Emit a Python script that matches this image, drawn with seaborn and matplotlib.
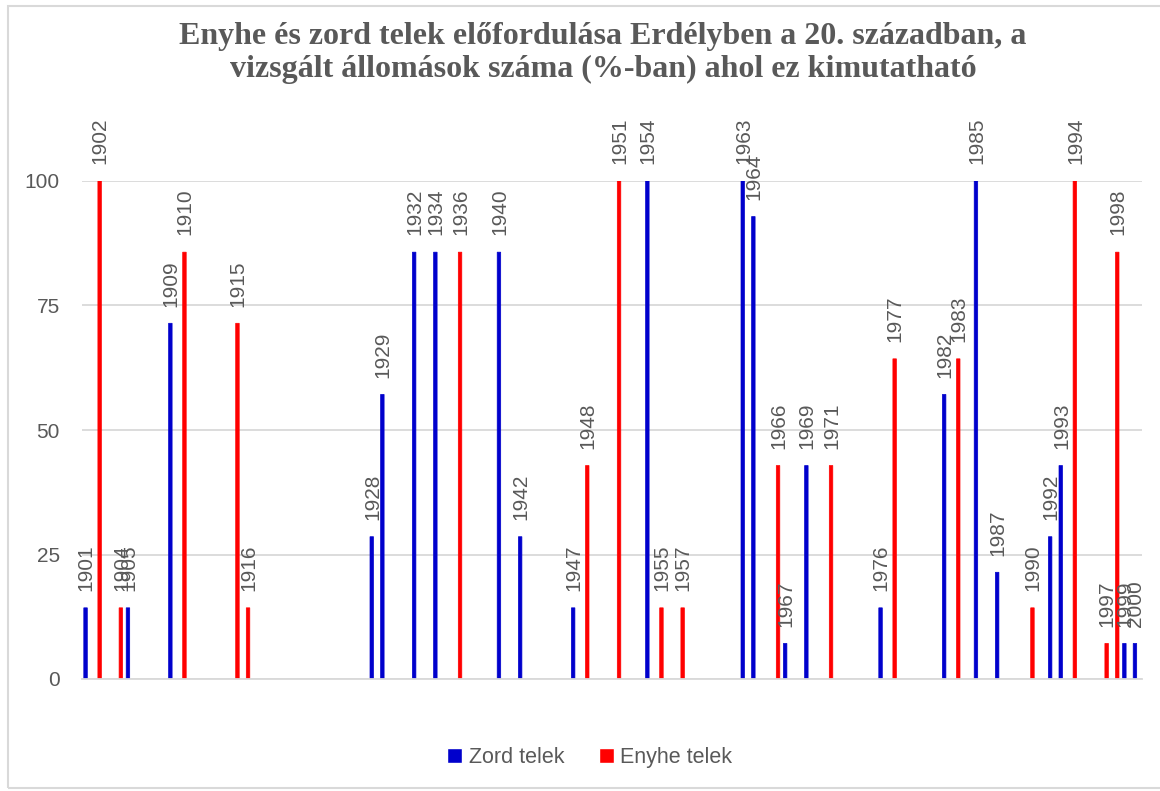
import numpy as np
import pandas as pd
import matplotlib
matplotlib.use("Agg")
import matplotlib.pyplot as plt
from matplotlib.patches import Rectangle
import seaborn as sns

# Adatok: a vizsgált állomások aránya (%) évenként
zord_years = [1901, 1905, 1909, 1928, 1929, 1932, 1934, 1940, 1942, 1947, 1954,
              1963, 1964, 1967, 1969, 1976, 1982, 1985, 1987, 1992, 1993, 1999, 2000]
zord_values = [14.29, 14.29, 71.43, 28.57, 57.14, 85.71, 85.71, 85.71, 28.57, 14.29, 100,
               100, 92.86, 7.14, 42.86, 14.29, 57.14, 100, 21.43, 28.57, 42.86, 7.14, 7.14]

enyhe_years = [1902, 1904, 1910, 1915, 1916, 1936, 1948, 1951, 1955, 1957, 1966,
               1971, 1977, 1983, 1990, 1994, 1997, 1998]
enyhe_values = [100, 14.29, 85.71, 71.43, 14.29, 85.71, 42.86, 100, 14.29, 14.29, 42.86,
                42.86, 64.29, 64.29, 14.29, 100, 7.14, 85.71]

all_years = [str(y) for y in range(1901, 2001)]
series_names = ["Zord telek", "Enyhe telek"]
colors = {"Zord telek": "#0000CC", "Enyhe telek": "#FF0000"}

df = pd.concat([
    pd.DataFrame({"ev": [str(y) for y in zord_years], "ertek": zord_values, "tipus": "Zord telek"}),
    pd.DataFrame({"ev": [str(y) for y in enyhe_years], "ertek": enyhe_values, "tipus": "Enyhe telek"}),
])

sns.set_style("white")
plt.rcParams["font.family"] = ["Liberation Sans", "DejaVu Sans"]
text_color = "#595959"
grid_color = "#d9d9d9"

fig = plt.figure(figsize=(11.6, 7.91), dpi=100)
ax = fig.add_axes([82 / 1160, 1 - 679 / 791, 1060 / 1160, 498 / 791])

sns.barplot(data=df, x="ev", y="ertek", hue="tipus", order=all_years,
            hue_order=series_names, palette=colors, width=0.66, gap=0,
            dodge=True, ax=ax, errorbar=None, saturation=1)

# vékony oszlopok egyenletes megjelenítése
for container in ax.containers:
    for bar in container:
        bar.set_edgecolor(bar.get_facecolor())
        bar.set_linewidth(0.5)
        bar.set_snap(False)

ax.set_ylim(0, 100)
ax.set_xlim(-0.5, 99.5)
ax.set_yticks([0, 25, 50, 75, 100])
ax.yaxis.grid(True, color=grid_color, linewidth=1.3)
ax.set_axisbelow(True)
ax.set_xticks([])
ax.set_xlabel("")
ax.set_ylabel("")
for s in ["top", "right", "left"]:
    ax.spines[s].set_visible(False)
ax.spines["bottom"].set_color(grid_color)
ax.spines["bottom"].set_linewidth(1.3)
ax.tick_params(axis="y", length=0, labelsize=15, labelcolor=text_color, pad=16)

# Évszám címkék az oszlopok fölött
for container in ax.containers:
    for bar in container:
        h = bar.get_height()
        if np.isnan(h) or h <= 0:
            continue
        idx = int(round(bar.get_x() + bar.get_width() / 2))
        ax.annotate(all_years[idx], (bar.get_x() + bar.get_width() / 2, h),
                    xytext=(0.5, 12), textcoords="offset points",
                    rotation=90, ha="center", va="bottom",
                    fontsize=15, color=text_color, annotation_clip=False)

sns.move_legend(ax, "center", bbox_to_anchor=(0.479, -0.157), ncol=2,
                frameon=False, title=None, fontsize=15.5, handlelength=0.7,
                handleheight=0.7, handletextpad=0.3, columnspacing=1.6,
                labelcolor=text_color)

fig.text(603 / 1160, 1 - 53 / 791,
         "Enyhe és zord telek előfordulása Erdélyben a 20. században, a\n"
         "vizsgált állomások száma (%-ban) ahol ez kimutatható",
         ha="center", va="center", fontsize=23, fontweight="bold",
         color=text_color, family=["Liberation Serif", "DejaVu Serif"],
         linespacing=1.22)

# Diagram kerete
fig.patches.append(Rectangle((8 / 1160, 1 - 788 / 791), 1.2, 782 / 791,
                             transform=fig.transFigure, fill=False,
                             edgecolor=grid_color, linewidth=1.5))

fig.savefig("out.png", dpi=100)
